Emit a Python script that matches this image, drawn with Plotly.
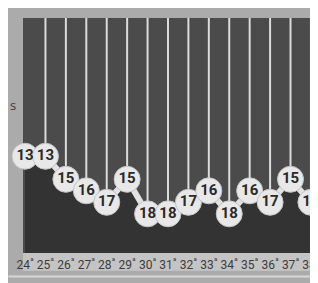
import plotly.graph_objects as go

rounds = ["24", "25", "26", "27", "28", "29", "30", "31", "32", "33", "34", "35", "36", "37", "38"]
positions = [13, 13, 15, 16, 17, 15, 18, 18, 17, 16, 18, 16, 17, 15, 17]
tick_labels = [r + "<sup>ª</sup>" for r in rounds]

Y_TOP = 1.0
Y_BOTTOM = 21.4

idx = list(range(len(rounds)))
FONT = "Liberation Sans Narrow, Arial Narrow, Roboto, sans-serif"

fig = go.Figure()

# darker fill below the line (baseline at the bottom of the axis)
fig.add_trace(go.Scatter(x=idx, y=[Y_BOTTOM] * len(idx), mode="lines",
                         line=dict(width=0, color="rgba(0,0,0,0)"),
                         hoverinfo="skip", showlegend=False))
fig.add_trace(go.Scatter(x=idx, y=positions, mode="lines", fill="tonexty",
                         fillcolor="#333333", line=dict(width=0),
                         hoverinfo="skip", showlegend=False))

# vertical white drop lines from top down to each point (skip first)
vx, vy = [], []
for i, p in zip(idx[1:], positions[1:]):
    vx += [i, i, None]
    vy += [Y_TOP, p, None]
fig.add_trace(go.Scatter(x=vx, y=vy, mode="lines",
                         line=dict(color="#dcdcdc", width=2),
                         hoverinfo="skip", showlegend=False))

# thick connecting line
fig.add_trace(go.Scatter(x=idx, y=positions, mode="lines",
                         line=dict(color="#e2e2e2", width=6),
                         hoverinfo="skip", showlegend=False, cliponaxis=False))

# circles with numbers
fig.add_trace(go.Scatter(x=idx, y=positions, mode="markers+text",
                         text=["<b>%d</b>" % p for p in positions],
                         textposition="middle center",
                         textfont=dict(family=FONT, size=15, color="#2a2a2a"),
                         marker=dict(size=26, color="#e8e8e8",
                                     line=dict(color="#c4c4c4", width=1)),
                         cliponaxis=False, hoverinfo="skip", showlegend=False))

fig.update_layout(
    width=318, height=283,
    margin=dict(l=15, r=6, t=10, b=38),
    paper_bgcolor="#ababab",
    plot_bgcolor="#4b4b4b",
    showlegend=False,
    shapes=[
        dict(type="rect", xref="paper", yref="paper", x0=0, x1=1, y0=-0.075, y1=0,
             fillcolor="#c4c4c4", line=dict(width=0), layer="below"),
        dict(type="line", xref="paper", yref="paper", x0=-0.05, x1=1.02, y0=-0.1, y1=-0.1,
             line=dict(color="#d8d8d8", width=2)),
    ],
    annotations=[
        dict(text="s", xref="paper", yref="paper", x=-0.05, y=0.63, showarrow=False,
             font=dict(size=13, color="#3a3a3a"), xanchor="left"),
    ],
)

fig.update_xaxes(range=[-0.1, 14.2], tickmode="array", tickvals=idx, ticktext=tick_labels,
                 tickangle=0, showgrid=False, zeroline=False, showline=False, ticks="",
                 tickfont=dict(family=FONT, size=12, color="#3c3c3c"), ticklabelstandoff=3)
fig.update_yaxes(range=[Y_BOTTOM, Y_TOP], showgrid=False, zeroline=False,
                 showline=False, showticklabels=False, ticks="")

fig.write_html("out.html")
